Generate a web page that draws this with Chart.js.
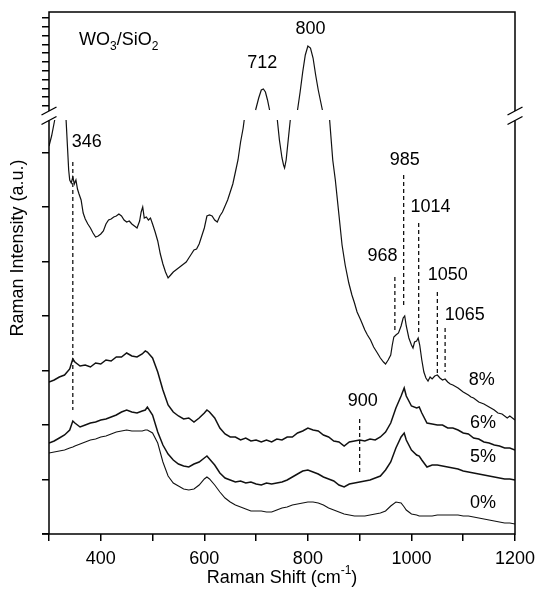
<!DOCTYPE html>
<html>
<head>
<meta charset="utf-8">
<script src="https://cdn.jsdelivr.net/npm/chart.js@4/dist/chart.umd.min.js"></script>
<style>
  body { margin: 0; background: #fff; }
  canvas { display: block; }
</style>
</head>
<body>
<canvas id="raman" width="537" height="589"></canvas>
<script>
const FONT = '"Liberation Sans", Arial, Helvetica, sans-serif';

// Raman shift grid (cm-1) shared by the 0 %, 5 % and 6 % spectra
const shift = [300, 310, 320, 330, 340, 346, 350, 360, 370, 380, 390, 400, 410, 420, 430, 440, 450, 460, 470, 480,
  486, 490, 500, 510, 520, 530, 540, 550, 560, 570, 580, 590, 600, 605, 610, 620, 630, 640, 650, 660,
  670, 680, 690, 700, 710, 720, 730, 740, 750, 760, 770, 780, 790, 800, 810, 820, 830, 840, 850, 860,
  870, 880, 890, 900, 910, 920, 930, 940, 950, 960, 970, 980, 986, 990, 1000, 1010, 1015, 1020, 1030, 1040,
  1050, 1060, 1070, 1080, 1090, 1100, 1110, 1120, 1130, 1140, 1150, 1160, 1170, 1180, 1190, 1200];

// intensities, arbitrary units (each spectrum offset vertically)
const wo3_6 = [152, 154, 157, 159, 165, 175, 172, 168, 169, 167, 171, 170, 174, 173, 177, 177, 181, 178, 177, 180,
  183, 182, 176, 162, 144, 129, 122, 118, 115, 116, 112, 116, 121, 124, 122, 116, 106, 100, 97, 97,
  94, 96, 93, 94, 92, 94, 92, 95, 94, 97, 97, 101, 103, 106, 104, 103, 99, 97, 93, 92,
  88, 92, 93, 94, 93, 95, 94, 97, 102, 111, 126, 138, 146, 138, 128, 126, 127, 121, 111, 110,
  109, 109, 106, 106, 104, 101, 100, 96, 95, 92, 91, 89, 88, 86, 86, 84];

const wo3_5 = [91, 93, 96, 99, 104, 113, 111, 107, 109, 111, 112, 114, 115, 117, 119, 122, 124, 122, 121, 123,
  124, 127, 119, 102, 89, 80, 74, 70, 68, 67, 70, 72, 76, 78, 75, 69, 61, 56, 54, 52,
  53, 51, 52, 50, 49, 51, 50, 51, 52, 54, 57, 60, 63, 64, 62, 60, 57, 55, 53, 49,
  47, 50, 51, 52, 53, 54, 56, 58, 64, 72, 86, 97, 101, 94, 84, 79, 78, 74, 67, 69,
  69, 68, 67, 66, 65, 63, 62, 61, 60, 59, 58, 57, 56, 55, 55, 54];

const wo3_0 = [81, 82, 83, 84, 86, 87, 88, 90, 92, 94, 95, 97, 98, 100, 102, 103, 104, 103, 103, 103,
  104, 104, 101, 91, 72, 58, 51, 48, 45, 44, 45, 49, 55, 57, 55, 49, 42, 36, 32, 29,
  27, 25, 23, 23, 23, 22, 22, 24, 26, 27, 29, 30, 31, 32, 32, 31, 29, 26, 24, 22,
  20, 19, 18, 18, 18, 19, 20, 21, 23, 28, 32, 31, 27, 24, 20, 19, 18, 18, 18, 18,
  19, 19, 19, 19, 19, 18, 18, 17, 16, 15, 14, 13, 12, 11, 11, 10];

// 8 % spectrum on its own grid; null where it runs through the axis break
const shift8 = [300, 305, 311, 320, 333, 336, 338, 340, 343, 346, 349, 352, 355, 358, 362, 366, 370, 375, 380, 385,
  390, 395, 400, 405, 410, 415, 420, 425, 430, 435, 440, 445, 450, 455, 460, 465, 470, 475, 478, 481,
  484, 488, 492, 496, 500, 505, 510, 515, 520, 525, 530, 535, 540, 545, 550, 555, 560, 565, 570, 575,
  580, 585, 590, 595, 600, 605, 610, 615, 620, 625, 630, 635, 640, 645, 650, 655, 660, 665, 670, 675,
  677, 690, 699, 705, 710, 714, 718, 722, 726, 734, 741, 745, 750, 753, 755, 758, 762, 766, 773, 780,
  785, 790, 795, 800, 805, 810, 815, 820, 828, 835, 842, 848, 853, 860, 866, 872, 879, 885, 890, 895,
  902, 910, 915, 921, 927, 933, 940, 946, 950, 955, 960, 963, 966, 970, 975, 980, 984, 987, 990, 995,
  1000, 1003, 1006, 1010, 1013, 1016, 1020, 1024, 1028, 1032, 1036, 1040, 1045, 1050, 1055, 1060, 1065, 1070, 1075, 1080,
  1090, 1100, 1110, 1115, 1120, 1130, 1140, 1150, 1160, 1167, 1175, 1185, 1190, 1200];
const wo3_8 = [388, 398, 414, null, 414, 384, 364, 354, 351, 357, 350, 354, 345, 340, 334, 321, 315, 310, 306, 301,
  297, 298, 300, 303, 310, 314, 315, 317, 318, 320, 318, 314, 312, 313, 310, 308, 306, 313, 322, 327,
  316, 317, 314, 316, 310, 302, 293, 280, 270, 262, 256, 259, 262, 264, 266, 268, 270, 272, 276, 280,
  284, 285, 290, 298, 306, 318, 319, 318, 314, 312, 318, 322, 328, 334, 342, 350, 362, 374, 392, 406,
  414, null, 424, 436, 444, 445, 442, 434, 424, null, 414, 394, 376, 369, 366, 374, 394, 414, null, 424,
  442, 462, 479, 488, 486, 476, 459, 444, 424, null, 414, 374, 354, 319, 289, 269, 251, 239, 231, 222,
  214, 204, 199, 194, 187, 182, 176, 172, 170, 174, 179, 189, 197, 199, 201, 208, 216, 218, 208, 196,
  189, 186, 192, 193, 196, 189, 174, 162, 156, 153, 157, 155, 158, 159, 156, 154, 155, 152, 150, 149,
  146, 142, 139, 137, 136, 132, 130, 127, 124, 121, 120, 116, 118, 114];

// y axis: lower range ticks, compressed upper range ticks, and the break between them
const lowerTicks = [0, 54.5, 109, 163.5, 218, 272.5, 327, 381.5];
const upperTicks = [428, 436.8, 445.6, 454.4, 463.2, 472, 480.8, 489.6, 498.4, 507.2, 516];
const breakMarks = [423, 413.5];

// assigned bands, drawn as dashed lines
const bandShift = [346, 900, 968, 985, 1014, 1050, 1065];
const bandTop = [372, 115, 257, 359, 311, 242, 206];
const bandBottom = [124, 62, 204, 226, 201, 161, 162];

// peak labels (text, shift, intensity)
const peakText = ['346', '712', '800', '985', '1014', '968', '1050', '1065', '900'];
const peakX = [373, 712, 805, 987, 1037, 944, 1070, 1103, 906];
const peakY = [392, 471, 505, 374, 327, 278, 259, 219, 133];

// WO3 loading labels next to each spectrum
const loadText = ['8%', '6%', '5%', '0%'];
const loadX = [1136, 1138, 1138, 1138];
const loadY = [154, 111, 77, 31];

const pts = (xs, ys) => xs.map((x, i) => ({ x: x, y: ys[i] }));

const spectrum = (data, w) => ({
  data: data,
  borderColor: '#111',
  borderWidth: w,
  pointRadius: 0,
  tension: 0,
  spanGaps: false
});

const datasets = [
  spectrum(pts(shift8, wo3_8), 1.2),
  spectrum(pts(shift, wo3_6), 1.5),
  spectrum(pts(shift, wo3_5), 1.5),
  spectrum(pts(shift, wo3_0), 1.1)
];
bandShift.forEach((s, i) => {
  datasets.push({
    data: [{ x: s, y: bandTop[i] }, { x: s, y: bandBottom[i] }],
    borderColor: '#000',
    borderWidth: 1.2,
    borderDash: [4, 3],
    pointRadius: 0
  });
});

// frame with broken y axis plus all the annotations
const frame = {
  id: 'frame',
  afterDraw(chart) {
    const { ctx, chartArea: a, scales: { x, y } } = chart;
    const g1 = y.getPixelForValue(breakMarks[0]);
    const g2 = y.getPixelForValue(breakMarks[1]);
    ctx.save();
    ctx.strokeStyle = '#000';
    ctx.lineWidth = 1.5;
    ctx.beginPath();
    [a.left, a.right].forEach(px => {
      ctx.moveTo(px, a.top); ctx.lineTo(px, g1);
      ctx.moveTo(px, g2); ctx.lineTo(px, a.bottom);
    });
    ctx.moveTo(a.left - 0.75, a.top); ctx.lineTo(a.right + 0.75, a.top);
    ctx.moveTo(a.left - 7, a.bottom); ctx.lineTo(a.right + 0.75, a.bottom);
    ctx.stroke();

    ctx.lineWidth = 1.4;
    ctx.beginPath();
    [a.left, a.right].forEach(px => {
      [g1, g2].forEach(py => {
        ctx.moveTo(px - 7.5, py + 4);
        ctx.lineTo(px + 7.5, py - 4);
      });
    });
    ctx.stroke();

    ctx.fillStyle = '#000';
    ctx.textAlign = 'center';
    ctx.textBaseline = 'middle';
    ctx.font = '18px ' + FONT;
    peakText.forEach((t, i) => {
      ctx.fillText(t, x.getPixelForValue(peakX[i]), y.getPixelForValue(peakY[i]));
    });
    loadText.forEach((t, i) => {
      ctx.fillText(t, x.getPixelForValue(loadX[i]), y.getPixelForValue(loadY[i]));
    });

    // sample name with subscripts
    const parts = [['WO', 0], ['3', 1], ['/SiO', 0], ['2', 1]];
    let cx = x.getPixelForValue(358);
    const cy = y.getPixelForValue(494);
    ctx.textAlign = 'left';
    parts.forEach(([t, sub]) => {
      ctx.font = (sub ? '12px ' : '18px ') + FONT;
      ctx.fillText(t, cx, sub ? cy + 7 : cy);
      cx += ctx.measureText(t).width;
    });

    // x axis title with superscript
    ctx.font = '18px ' + FONT;
    const t1 = 'Raman Shift (cm', t3 = ')';
    const w1 = ctx.measureText(t1).width, w3 = ctx.measureText(t3).width;
    ctx.font = '12px ' + FONT;
    const w2 = ctx.measureText('-1').width;
    let tx = (a.left + a.right) / 2 - (w1 + w2 + w3) / 2;
    const ty = 578;
    ctx.font = '18px ' + FONT;
    ctx.fillText(t1, tx, ty);
    ctx.font = '12px ' + FONT;
    ctx.fillText('-1', tx + w1, ty - 7);
    ctx.font = '18px ' + FONT;
    ctx.fillText(t3, tx + w1 + w2, ty);

    // y axis title
    ctx.translate(18, 248);
    ctx.rotate(-Math.PI / 2);
    ctx.textAlign = 'center';
    ctx.fillText('Raman Intensity (a.u.)', 0, 0);
    ctx.restore();
  }
};

new Chart(document.getElementById('raman'), {
  type: 'line',
  data: { datasets: datasets },
  options: {
    responsive: false,
    animation: false,
    events: [],
    layout: { padding: { top: 12, right: 22, left: 0, bottom: 0 } },
    plugins: { legend: { display: false }, tooltip: { enabled: false } },
    scales: {
      x: {
        type: 'linear',
        min: 300,
        max: 1200,
        afterFit: s => { s.height = 55; s.paddingLeft = 0; s.paddingRight = 0; },
        border: { display: false },
        grid: { drawOnChartArea: false, tickLength: 7, color: '#000', lineWidth: 1.5 },
        ticks: {
          stepSize: 100,
          autoSkip: false,
          maxRotation: 0,
          padding: 7,
          color: '#000',
          font: { size: 18, family: FONT },
          callback: v => (v % 200 === 0 ? v : '')
        }
      },
      y: {
        type: 'linear',
        min: 0,
        max: 522,
        afterFit: s => { s.width = 49; s.paddingTop = 0; s.paddingBottom = 0; },
        afterBuildTicks: s => {
          s.ticks = lowerTicks.concat(upperTicks).map(v => ({ value: v }));
        },
        border: { display: false },
        grid: { drawOnChartArea: false, tickLength: 7, color: '#000', lineWidth: 1.5 },
        ticks: { callback: () => '', padding: 0 }
      }
    }
  },
  plugins: [frame]
});
</script>
</body>
</html>
